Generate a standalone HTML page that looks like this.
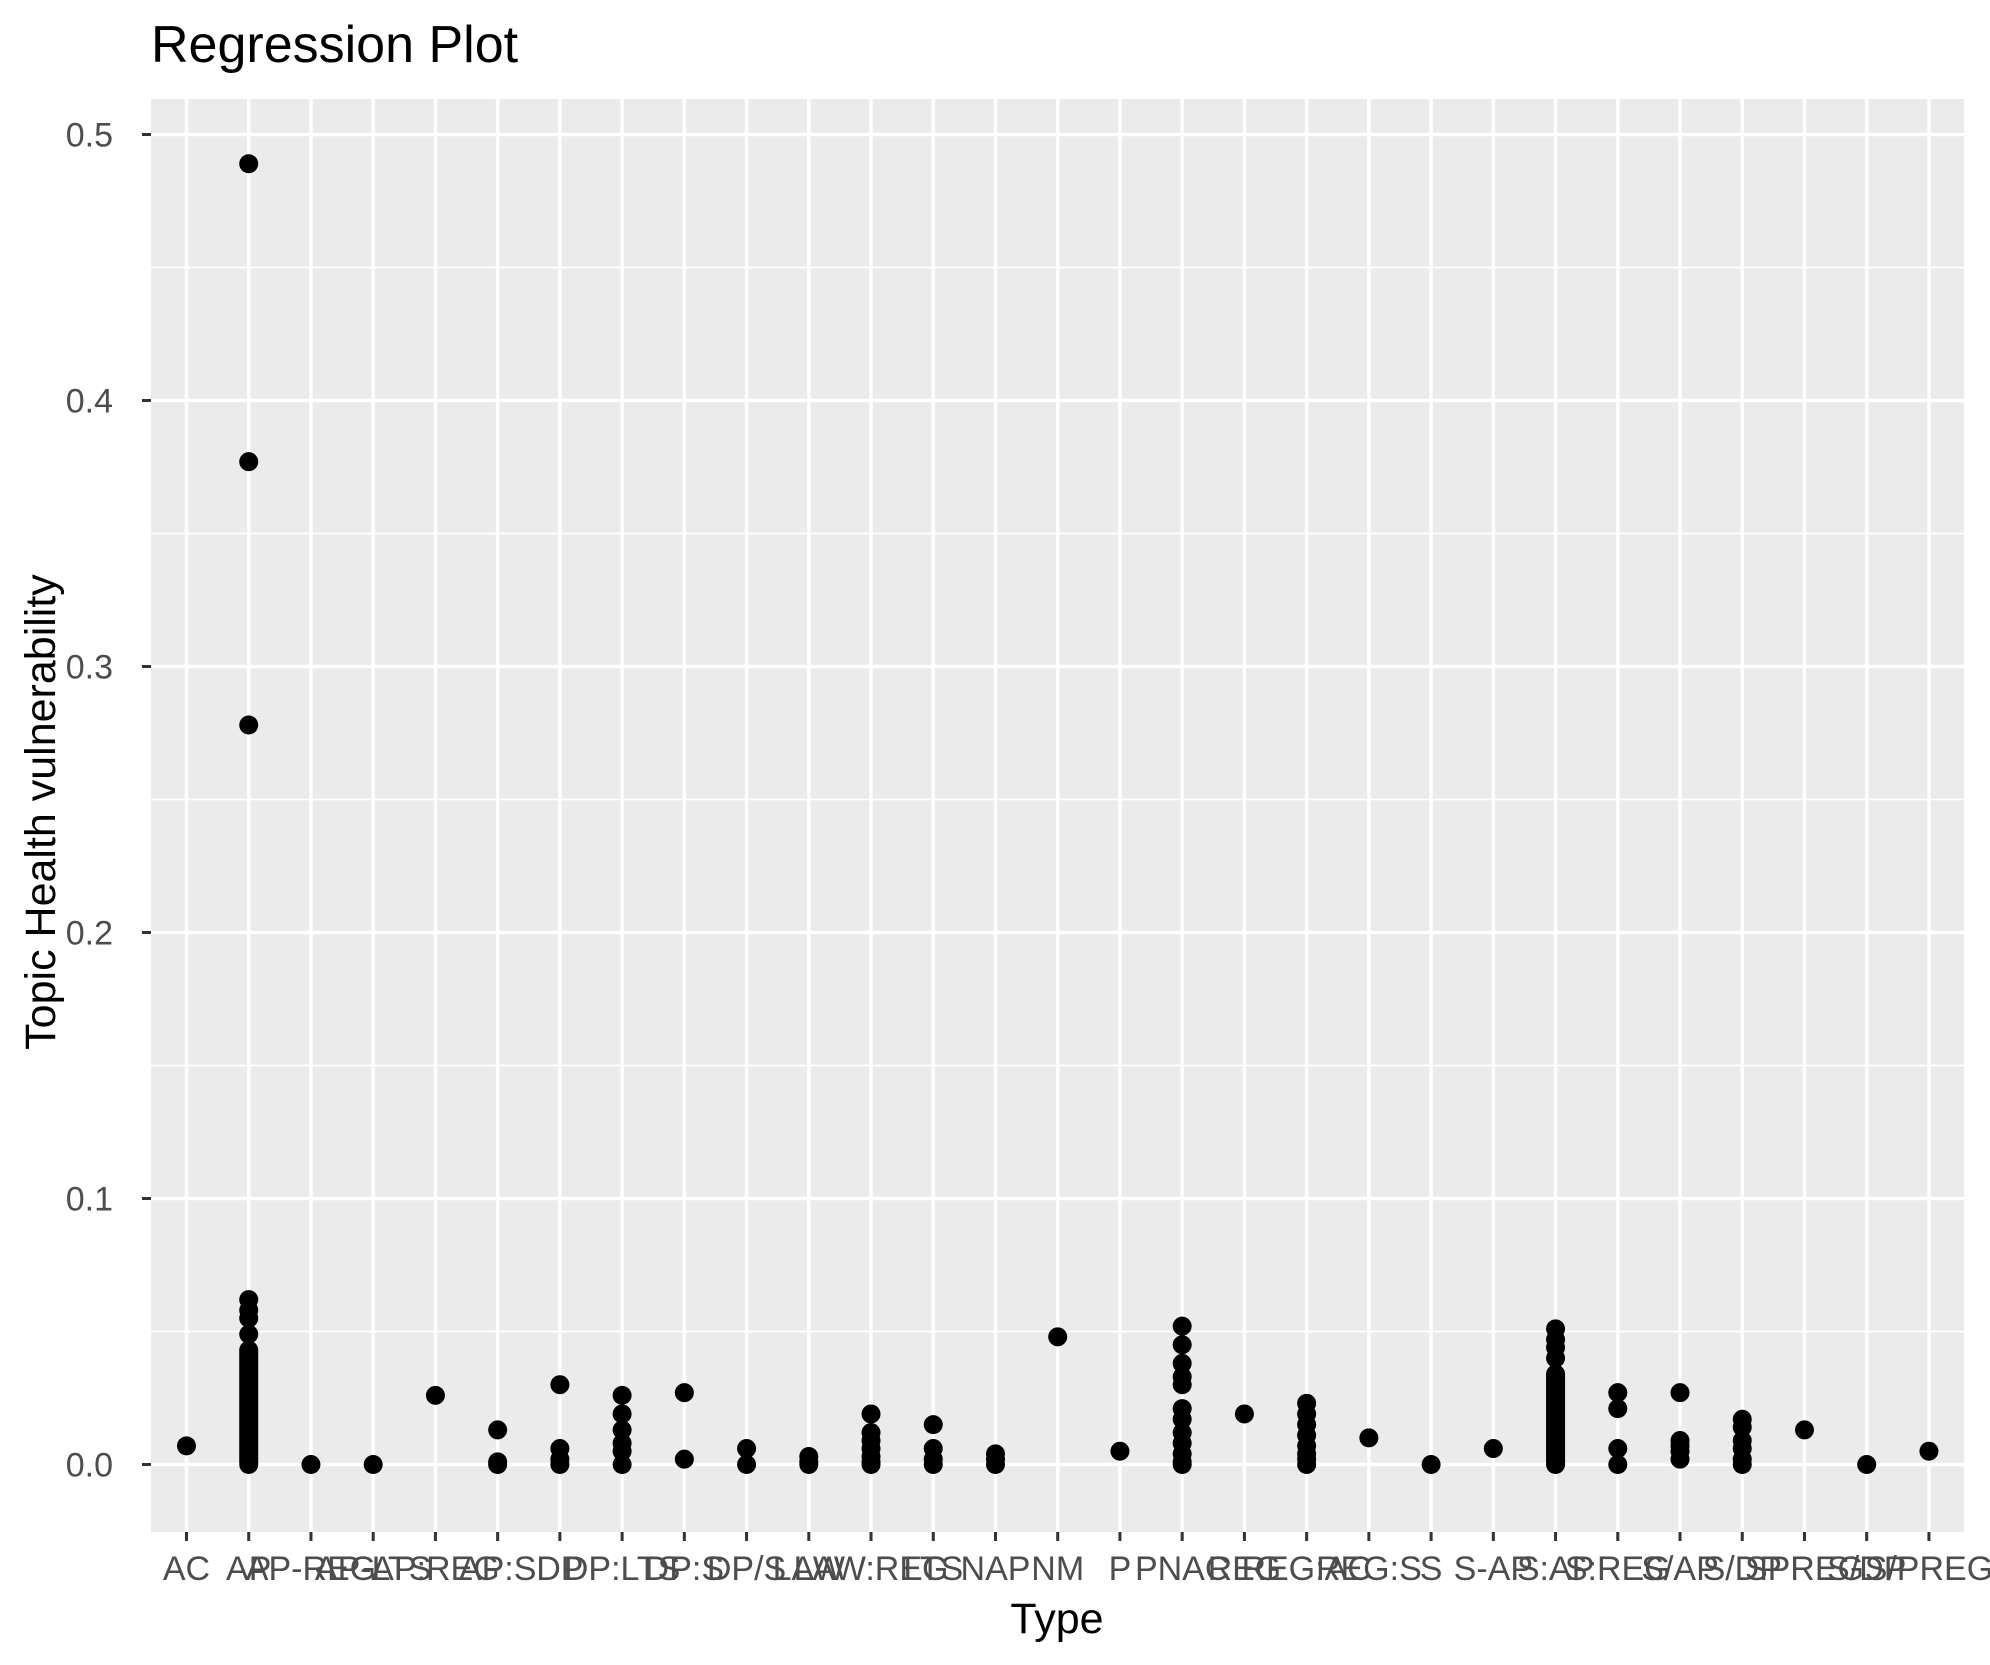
<!DOCTYPE html>
<html><head><style>body{margin:0;background:#fff}svg{display:block}</style></head><body>
<svg width="1990" height="1665" xmlns="http://www.w3.org/2000/svg" font-family="Liberation Sans, sans-serif">
<rect width="1990" height="1665" fill="#fff"/>
<rect x="151" y="99" width="1813" height="1433" fill="#ebebeb"/>
<g id="grid" stroke="#fff"></g>
<g id="pts" fill="#000"></g>
<g id="axes"></g>
<text x="151" y="62" font-size="52" fill="#000">Regression Plot</text>
<text x="1057" y="1633" font-size="43" text-anchor="middle" fill="#000">Type</text>
<text transform="translate(55,812) rotate(-90)" font-size="43" text-anchor="middle" fill="#000">Topic Health vulnerability</text>
<script>
const ns="http://www.w3.org/2000/svg";
function el(p,t,a,txt){const e=document.createElementNS(ns,t);for(const k in a)e.setAttribute(k,a[k]);if(txt!=null)e.textContent=txt;document.getElementById(p).appendChild(e);}
const X=i=>186.5+i*62.23, Y=v=>1464.5-v*2660;
for(let v=0.05;v<0.5;v+=0.1)el('grid','line',{x1:151,x2:1964,y1:Y(v),y2:Y(v),'stroke-width':1.7});
for(let i=0;i<=5;i++){const v=i/10;el('grid','line',{x1:151,x2:1964,y1:Y(v),y2:Y(v),'stroke-width':3.4});
 el('axes','line',{x1:142,x2:151,y1:Y(v),y2:Y(v),stroke:'#333','stroke-width':3});
 el('axes','text',{x:113,y:Y(v)+12,'font-size':34,'text-anchor':'end',fill:'#4d4d4d'},v.toFixed(1));}
const lbl=["AC","AP","AP-REG","AP-LTS","AP:REG","AP:S","DP","DP:LTS","DP:S","DP/S","LAW","LAW:REG","LTS","NAP","NM","P","PNAC","REG","REG:AC","REG:S","S","S-AP","S:AP","S:REG","S/AP","S/DP","SPREG","S/DP","S/PREG"];
for(let i=0;i<29;i++){el('grid','line',{x1:X(i),x2:X(i),y1:99,y2:1532,'stroke-width':3.4});
 el('axes','line',{x1:X(i),x2:X(i),y1:1532,y2:1541,stroke:'#333','stroke-width':3});
 el('axes','text',{x:X(i),y:1580,'font-size':34,'text-anchor':'middle',fill:'#4d4d4d'},lbl[i]);}
const d={0:[.007],1:[.489,.377,.278,.062,.058,.055,.049],2:[0],3:[0],4:[.026],5:[.013,.001,0],6:[.030,.006,.002,0],
7:[.026,.019,.013,.008,.005,0],8:[.027,.002],9:[.006,0],10:[.003,.001,0],11:[.019,.012,.009,.006,.003,.001,0],
12:[.015,.006,.002,0],13:[.004,.002,0],14:[.048],15:[.005],16:[.052,.045,.038,.033,.030,.021,.017,.012,.008,.004,.001,0],
17:[.019],18:[.023,.019,.015,.011,.007,.004,.002,0],19:[.010],20:[0],21:[.006],22:[.051,.047,.044,.040],
23:[.027,.021,.006,0],24:[.027,.009,.007,.005,.002],25:[.017,.014,.009,.006,.002,0],26:[.013],27:[0],28:[.005]};
const R=9.5;
for(const k in d)for(const v of d[k])el('pts','circle',{cx:X(+k),cy:Y(v),r:R});
el('pts','rect',{x:X(1)-R,y:Y(.043)-R,width:2*R,height:Y(0)-Y(.043)+2*R,rx:R});
el('pts','rect',{x:X(22)-R,y:Y(.034)-R,width:2*R,height:Y(0)-Y(.034)+2*R,rx:R});
</script>
</svg>
</body></html>
